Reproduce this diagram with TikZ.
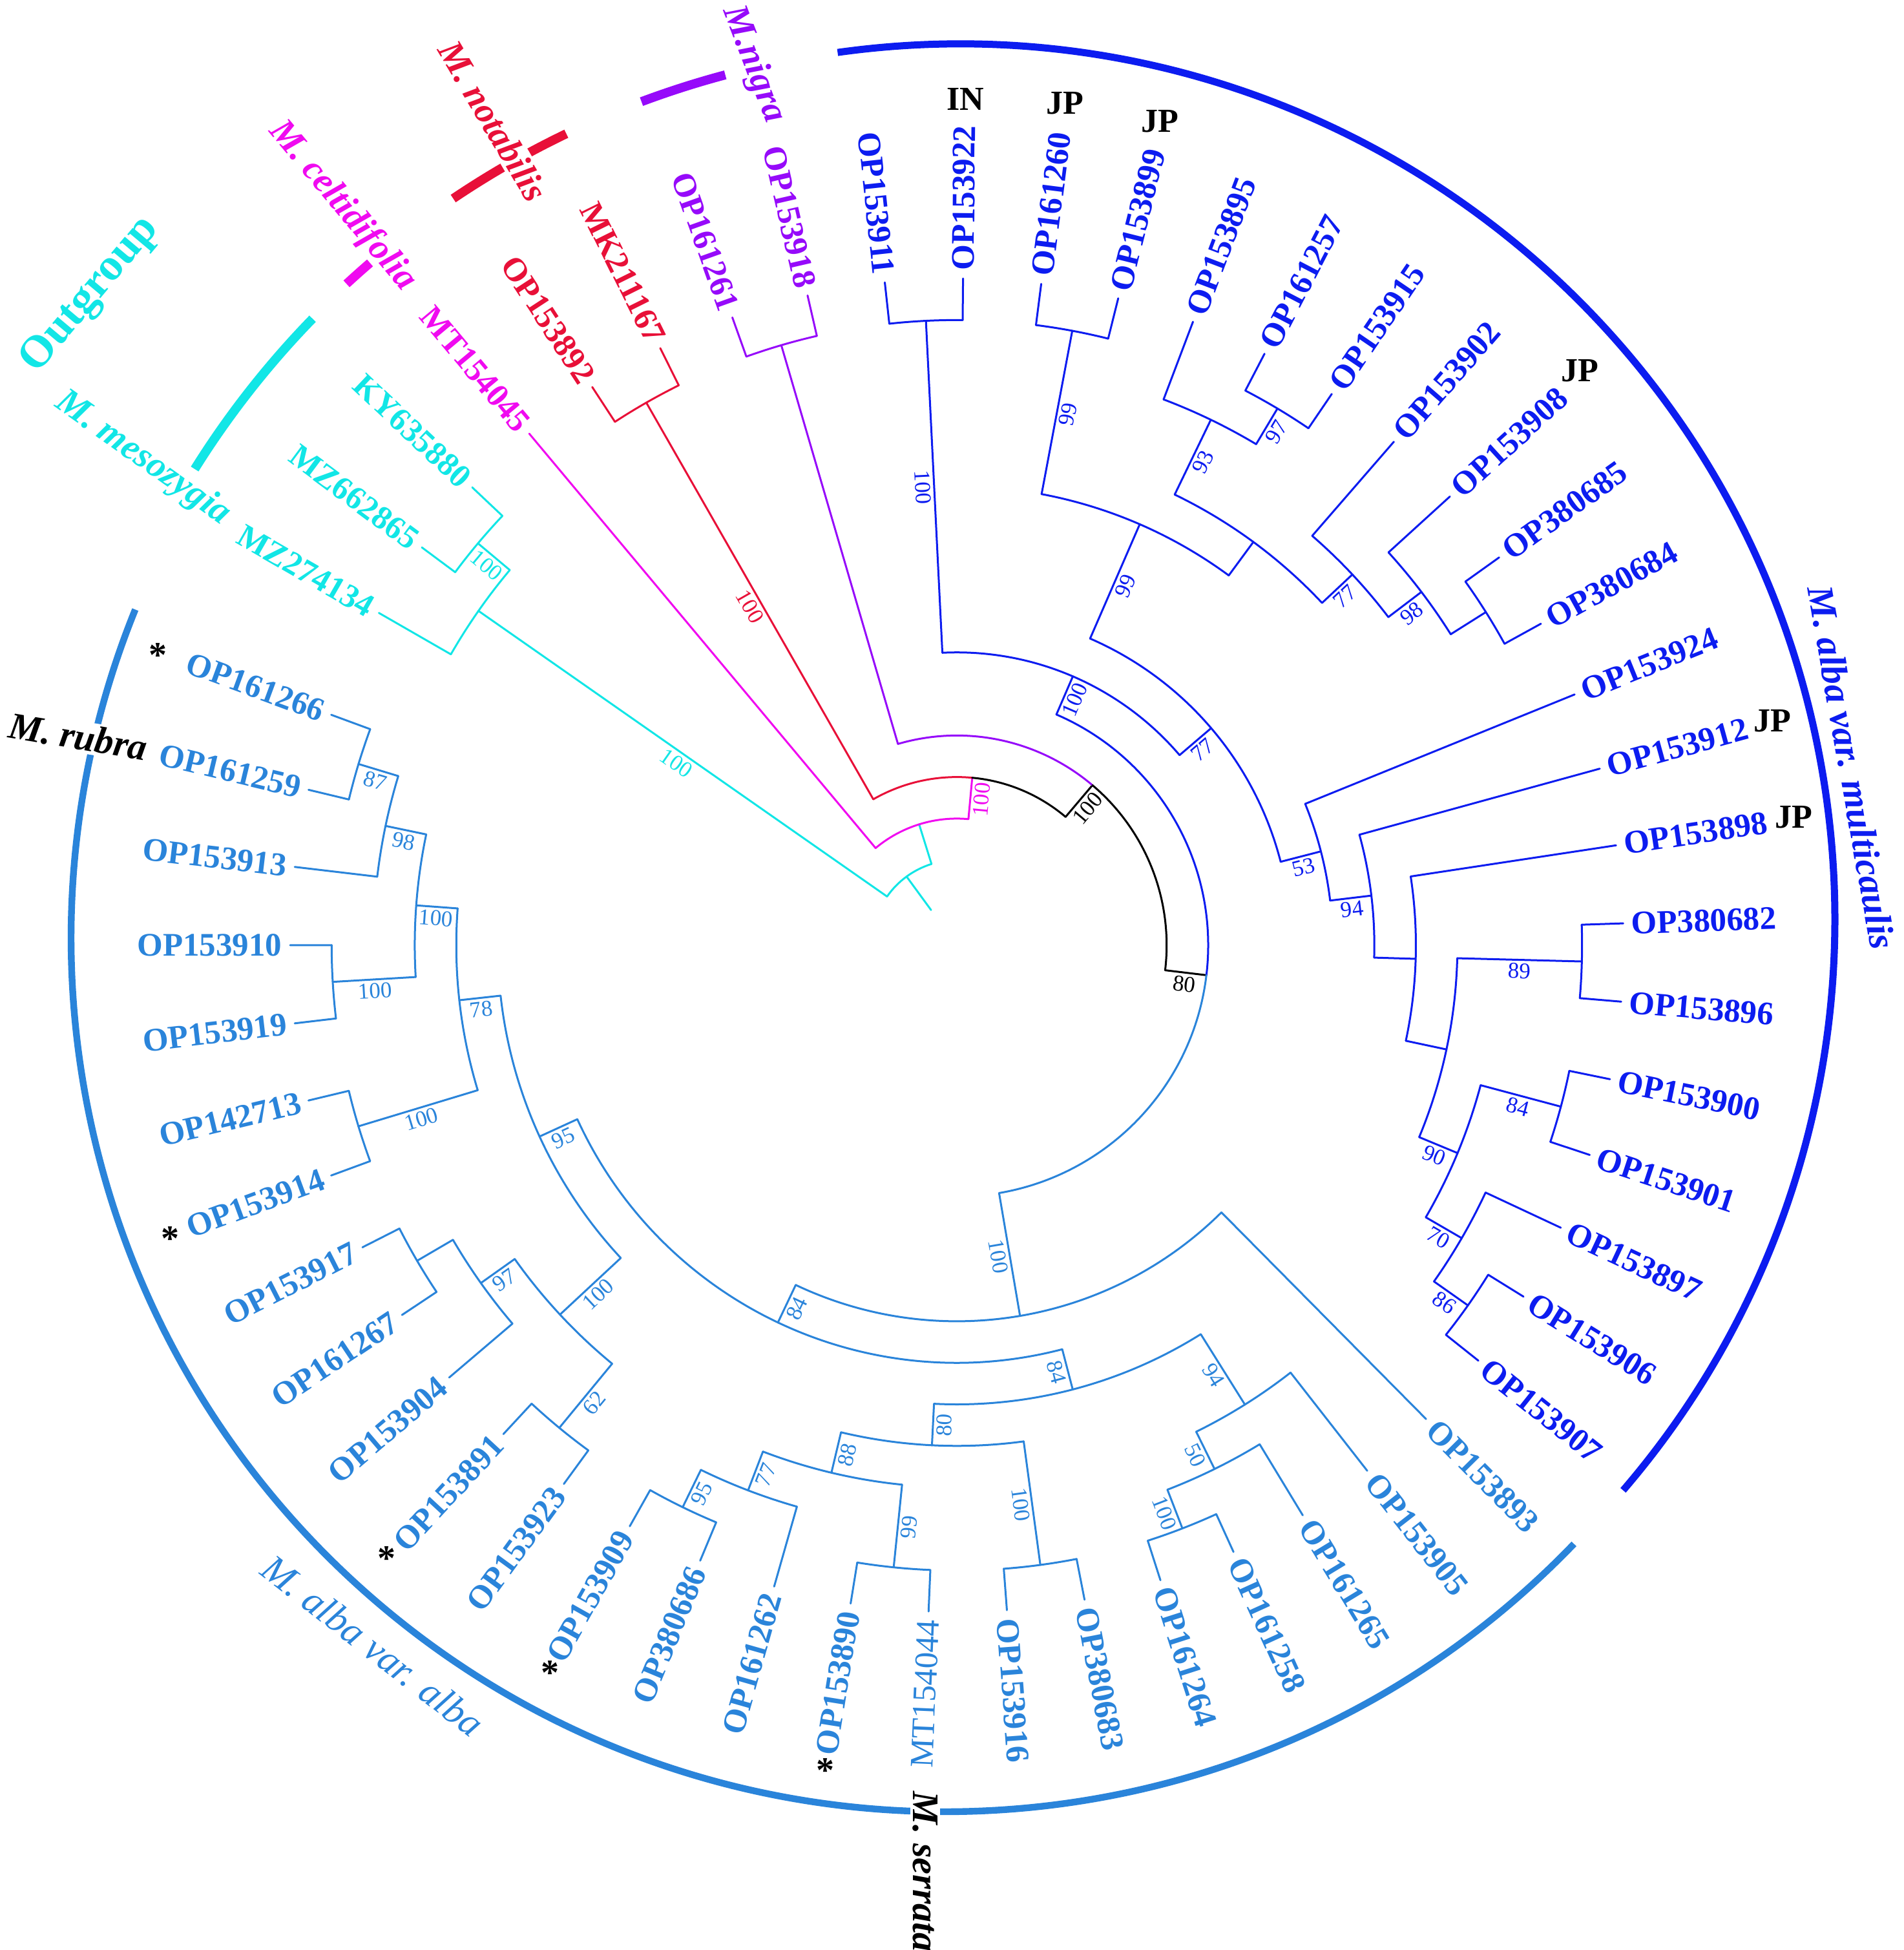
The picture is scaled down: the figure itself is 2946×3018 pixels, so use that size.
\documentclass[tikz,border=0pt]{standalone}
\usepackage{fontspec}
\setmainfont{Liberation Serif}
\definecolor{Cy}{RGB}{18,230,230}
\definecolor{Mg}{RGB}{240,10,240}
\definecolor{Rd}{RGB}{232,16,56}
\definecolor{Pu}{RGB}{150,10,250}
\definecolor{Bl}{RGB}{12,28,240}
\definecolor{Lb}{RGB}{42,132,218}
\newcommand\ang[1]{\csname a@#1\endcsname}
\newcommand\defleaf[2]{\pgfmathsetmacro\mytmp{-150.1+6.737*#2}\expandafter\xdef\csname a@#1\endcsname{\mytmp}}
\newcommand\defnode[3]{\pgfmathsetmacro\mytmp{(\ang{#2}+\ang{#3})/2}\expandafter\xdef\csname a@#1\endcsname{\mytmp}}
\newcommand\leafreg{\fontsize{12.75}{13}\selectfont\mdseries}
\tikzset{
  br/.style={line width=0.75pt, line cap=round, line join=round},
  bs/.style={font=\fontsize{8.75}{9}\selectfont, inner sep=1.2pt, anchor=north},
  leaf/.style={font=\fontsize{12.75}{13}\selectfont\bfseries, inner sep=0pt},
  clade/.style={line width=3.5pt},
  ctry/.style={font=\fontsize{13}{13}\selectfont\bfseries, text=black, inner sep=0pt},
  astx/.style={font=\fontsize{14}{14}\selectfont\bfseries, text=black, inner sep=0pt},
  spname/.style={inner sep=1pt},
}
\newcommand\Stem[5]{%
  \pgfmathsetmacro\myan{\ang{#2}}%
  \pgfmathsetmacro\myri{1032-64.3*#3}%
  \pgfmathsetmacro\myro{1032-64.3*#4}%
  \draw[br,#1] (\myan:\myri) coordinate (#2-base) -- (\myan:\myro) coordinate (#2);
  \if\relax\detokenize{#5}\relax\else
    \pgfmathsetmacro\myrm{(\myri+\myro)/2}%
    \pgfmathsetmacro\myc{cos(\myan)}%
    \ifdim\myc pt<0pt \pgfmathsetmacro\myrot{180-(\myan)}\else\pgfmathsetmacro\myrot{-(\myan)}\fi
    \node[bs,text=#1,rotate=\myrot] (#2-bs) at (\myan:\myrm) {#5};
  \fi}
\newcommand\Arc[4]{%
  \pgfmathsetmacro\myr{1032-64.3*#2}%
  \pgfmathsetmacro\myaa{\ang{#3}}\pgfmathsetmacro\myab{\ang{#4}}%
  \draw[br,#1] (\myaa:\myr) arc[start angle=\myaa, end angle=\myab, radius=\myr];}
\newcommand\Lf[4][]{%
  \pgfmathsetmacro\myan{\ang{#3}}%
  \pgfmathsetmacro\myri{1032-64.3*#4}%
  \draw[br,#2] (\myan:\myri) coordinate (#3-base) -- (\myan:1032) coordinate (#3);
  \pgfmathsetmacro\myc{cos(\myan)}%
  \ifdim\myc pt<0pt
    \pgfmathsetmacro\myrot{180-(\myan)}%
    \node[leaf,text=#2,rotate=\myrot,anchor=east,#1] (#3-lab) at (\myan:1044) {#3};%
  \else
    \pgfmathsetmacro\myrot{-(\myan)}%
    \node[leaf,text=#2,rotate=\myrot,anchor=west,#1] (#3-lab) at (\myan:1044) {#3};%
  \fi}
\begin{document}
\defleaf{MZ274134}{0}\defleaf{MZ662865}{1}\defleaf{KY635880}{2}\defleaf{MT154045}{3}
\defleaf{OP153892}{4}\defleaf{MK211167}{5}\defleaf{OP161261}{6}\defleaf{OP153918}{7}
\defleaf{OP153911}{8}\defleaf{OP153922}{9}\defleaf{OP161260}{10}\defleaf{OP153899}{11}
\defleaf{OP153895}{12}\defleaf{OP161257}{13}\defleaf{OP153915}{14}\defleaf{OP153902}{15}
\defleaf{OP153908}{16}\defleaf{OP380685}{17}\defleaf{OP380684}{18}\defleaf{OP153924}{19}
\defleaf{OP153912}{20}\defleaf{OP153898}{21}\defleaf{OP380682}{22}\defleaf{OP153896}{23}
\defleaf{OP153900}{24}\defleaf{OP153901}{25}\defleaf{OP153897}{26}\defleaf{OP153906}{27}
\defleaf{OP153907}{28}\defleaf{OP153893}{29}\defleaf{OP153905}{30}\defleaf{OP161265}{31}
\defleaf{OP161258}{32}\defleaf{OP161264}{33}\defleaf{OP380683}{34}\defleaf{OP153916}{35}
\defleaf{MT154044}{36}\defleaf{OP153890}{37}\defleaf{OP161262}{38}\defleaf{OP380686}{39}
\defleaf{OP153909}{40}\defleaf{OP153923}{41}\defleaf{OP153891}{42}\defleaf{OP153904}{43}
\defleaf{OP161267}{44}\defleaf{OP153917}{45}\defleaf{OP153914}{46}\defleaf{OP142713}{47}
\defleaf{OP153919}{48}\defleaf{OP153910}{49}\defleaf{OP153913}{50}\defleaf{OP161259}{51}
\defleaf{OP161266}{52}
\defnode{og1}{MZ662865}{KY635880}
\defnode{og2}{MZ274134}{og1}
\defnode{red}{OP153892}{MK211167}
\defnode{nig}{OP161261}{OP153918}
\defnode{ind}{OP153911}{OP153922}
\defnode{p1}{OP161260}{OP153899}
\defnode{t97}{OP161257}{OP153915}
\defnode{t93}{OP153895}{t97}
\defnode{tx}{OP380685}{OP380684}
\defnode{t98}{OP153908}{tx}
\defnode{t77}{OP153902}{t98}
\defnode{p3}{t93}{t77}
\defnode{p2}{p1}{p3}
\defnode{q86}{OP153906}{OP153907}
\defnode{q70}{OP153897}{q86}
\defnode{q84}{OP153900}{OP153901}
\defnode{q90}{q84}{q70}
\defnode{q89}{OP380682}{OP153896}
\defnode{q4}{q89}{q90}
\defnode{q3}{OP153898}{q4}
\defnode{q94}{OP153912}{q3}
\defnode{q53}{OP153924}{q94}
\defnode{mc1}{p2}{q53}
\defnode{mc0}{ind}{mc1}
\defnode{x1}{OP161258}{OP161264}
\defnode{f50}{OP161265}{x1}
\defnode{f94}{OP153905}{f50}
\defnode{b100}{OP380683}{OP153916}
\defnode{b99}{MT154044}{OP153890}
\defnode{b95}{OP380686}{OP153909}
\defnode{b77}{OP161262}{b95}
\defnode{b88}{b99}{b77}
\defnode{b80}{b100}{b88}
\defnode{f84}{f94}{b80}
\defnode{c62}{OP153923}{OP153891}
\defnode{cy}{OP161267}{OP153917}
\defnode{c97}{OP153904}{cy}
\defnode{c100}{c62}{c97}
\defnode{d100}{OP153914}{OP142713}
\defnode{e100}{OP153919}{OP153910}
\defnode{e87}{OP161259}{OP161266}
\defnode{e98}{OP153913}{e87}
\defnode{e100b}{e100}{e98}
\defnode{d78}{d100}{e100b}
\defnode{c95}{c100}{d78}
\defnode{a84}{f84}{c95}
\defnode{a0}{OP153893}{a84}
\defnode{n4}{mc0}{a0}
\defnode{n3}{nig}{n4}
\defnode{n2}{red}{n3}
\defnode{n1}{MT154045}{n2}
\defnode{root}{og2}{n1}
\begin{tikzpicture}[x=0.25pt,y=-0.25pt]
\useasboundingbox (0,0) rectangle (2946,3018);
% clade bars
\draw[Bl, line width=2.75pt] (1485,1423) ++(-98:1355) arc[start angle=-98, end angle=40.7, radius=1355];
\draw[Lb, line width=2.6pt] (1462,1452) ++(43.9:1352) arc[start angle=43.9, end angle=202.1, radius=1352];
\begin{scope}[shift={(1481,1463)}]
\draw[Cy, clade] (-148.0:1391) arc[start angle=-148.0, end angle=-135.8, radius=1391];
\draw[Mg, clade] (-132.7:1393) arc[start angle=-132.7, end angle=-130.7, radius=1393];
\draw[Rd, clade] (-124.0:1394) arc[start angle=-124.0, end angle=-115.7, radius=1394];
\draw[Pu, clade] (-110.5:1394) arc[start angle=-110.5, end angle=-104.9, radius=1394];
% root and backbone
\Stem{Cy}{root}{15}{14}{}
\Arc{Cy}{14}{og2}{n1}
\Stem{Cy}{og2}{14}{2}{100}
\Arc{Cy}{2}{MZ274134}{og1}
\Lf{Cy}{MZ274134}{2}
\Stem{Cy}{og1}{2}{1}{100}
\Arc{Cy}{1}{MZ662865}{KY635880}
\Lf{Cy}{MZ662865}{1}
\Lf{Cy}{KY635880}{1}
\Stem{Cy}{n1}{14}{13}{}
\Arc{Mg}{13}{MT154045}{n2}
\Lf{Mg}{MT154045}{13}
\Stem{Mg}{n2}{13}{12}{100}
\Arc{Rd}{12}{red}{n2}
\Arc{black}{12}{n2}{n3}
\Stem{Rd}{red}{12}{1}{100}
\Arc{Rd}{1}{OP153892}{MK211167}
\Lf{Rd}{OP153892}{1}
\Lf{Rd}{MK211167}{1}
\Stem{black}{n3}{12}{11}{100}
\Arc{Pu}{11}{nig}{n3}
\Arc{black}{11}{n3}{n4}
\Stem{Pu}{nig}{11}{1}{}
\Arc{Pu}{1}{OP161261}{OP153918}
\Lf{Pu}{OP161261}{1}
\Lf{Pu}{OP153918}{1}
\Stem{black}{n4}{11}{10}{80}
\Arc{Bl}{10}{mc0}{n4}
\Arc{Lb}{10}{n4}{a0}
% M. alba var. multicaulis
\Stem{Bl}{mc0}{10}{9}{100}
\Arc{Bl}{9}{ind}{mc1}
\Stem{Bl}{ind}{9}{1}{100}
\Arc{Bl}{1}{OP153911}{OP153922}
\Lf{Bl}{OP153911}{1}
\Lf{Bl}{OP153922}{1}
\Stem{Bl}{mc1}{9}{8}{77}
\Arc{Bl}{8}{p2}{q53}
\Stem{Bl}{p2}{8}{5}{99}
\Arc{Bl}{5}{p1}{p3}
\Stem{Bl}{p1}{5}{1}{99}
\Arc{Bl}{1}{OP161260}{OP153899}
\Lf{Bl}{OP161260}{1}
\Lf{Bl}{OP153899}{1}
\Stem{Bl}{p3}{5}{4}{}
\Arc{Bl}{4}{t93}{t77}
\Stem{Bl}{t93}{4}{2}{93}
\Arc{Bl}{2}{OP153895}{t97}
\Lf{Bl}{OP153895}{2}
\Stem{Bl}{t97}{2}{1}{97}
\Arc{Bl}{1}{OP161257}{OP153915}
\Lf{Bl}{OP161257}{1}
\Lf{Bl}{OP153915}{1}
\Stem{Bl}{t77}{4}{3}{77}
\Arc{Bl}{3}{OP153902}{t98}
\Lf{Bl}{OP153902}{3}
\Stem{Bl}{t98}{3}{2}{98}
\Arc{Bl}{2}{OP153908}{tx}
\Lf{Bl}{OP153908}{2}
\Stem{Bl}{tx}{2}{1}{}
\Arc{Bl}{1}{OP380685}{OP380684}
\Lf{Bl}{OP380685}{1}
\Lf{Bl}{OP380684}{1}
\Stem{Bl}{q53}{8}{7}{53}
\Arc{Bl}{7}{OP153924}{q94}
\Lf{Bl}{OP153924}{7}
\Stem{Bl}{q94}{7}{6}{94}
\Arc{Bl}{6}{OP153912}{q3}
\Lf{Bl}{OP153912}{6}
\Stem{Bl}{q3}{6}{5}{}
\Arc{Bl}{5}{OP153898}{q4}
\Lf{Bl}{OP153898}{5}
\Stem{Bl}{q4}{5}{4}{}
\Arc{Bl}{4}{q89}{q90}
\Stem{Bl}{q89}{4}{1}{89}
\Arc{Bl}{1}{OP380682}{OP153896}
\Lf{Bl}{OP380682}{1}
\Lf{Bl}{OP153896}{1}
\Stem{Bl}{q90}{4}{3}{90}
\Arc{Bl}{3}{q84}{q70}
\Stem{Bl}{q84}{3}{1}{84}
\Arc{Bl}{1}{OP153900}{OP153901}
\Lf{Bl}{OP153900}{1}
\Lf{Bl}{OP153901}{1}
\Stem{Bl}{q70}{3}{2}{70}
\Arc{Bl}{2}{OP153897}{q86}
\Lf{Bl}{OP153897}{2}
\Stem{Bl}{q86}{2}{1}{86}
\Arc{Bl}{1}{OP153906}{OP153907}
\Lf{Bl}{OP153906}{1}
\Lf{Bl}{OP153907}{1}
% M. alba var. alba
\Stem{Lb}{a0}{10}{7}{100}
\Arc{Lb}{7}{OP153893}{a84}
\Lf{Lb}{OP153893}{7}
\Stem{Lb}{a84}{7}{6}{84}
\Arc{Lb}{6}{f84}{c95}
\Stem{Lb}{f84}{6}{5}{84}
\Arc{Lb}{5}{f94}{b80}
\Stem{Lb}{f94}{5}{3}{94}
\Arc{Lb}{3}{OP153905}{f50}
\Lf{Lb}{OP153905}{3}
\Stem{Lb}{f50}{3}{2}{50}
\Arc{Lb}{2}{OP161265}{x1}
\Lf{Lb}{OP161265}{2}
\Stem{Lb}{x1}{2}{1}{100}
\Arc{Lb}{1}{OP161258}{OP161264}
\Lf{Lb}{OP161258}{1}
\Lf{Lb}{OP161264}{1}
\Stem{Lb}{b80}{5}{4}{80}
\Arc{Lb}{4}{b100}{b88}
\Stem{Lb}{b100}{4}{1}{100}
\Arc{Lb}{1}{OP380683}{OP153916}
\Lf{Lb}{OP380683}{1}
\Lf{Lb}{OP153916}{1}
\Stem{Lb}{b88}{4}{3}{88}
\Arc{Lb}{3}{b99}{b77}
\Stem{Lb}{b99}{3}{1}{99}
\Arc{Lb}{1}{MT154044}{OP153890}
\Lf[font=\leafreg]{Lb}{MT154044}{1}
\Lf{Lb}{OP153890}{1}
\Stem{Lb}{b77}{3}{2}{77}
\Arc{Lb}{2}{OP161262}{b95}
\Lf{Lb}{OP161262}{2}
\Stem{Lb}{b95}{2}{1}{95}
\Arc{Lb}{1}{OP380686}{OP153909}
\Lf{Lb}{OP380686}{1}
\Lf{Lb}{OP153909}{1}
\Stem{Lb}{c95}{6}{5}{95}
\Arc{Lb}{5}{c100}{d78}
\Stem{Lb}{c100}{5}{3}{100}
\Arc{Lb}{3}{c62}{c97}
\Stem{Lb}{c62}{3}{1}{62}
\Arc{Lb}{1}{OP153923}{OP153891}
\Lf{Lb}{OP153923}{1}
\Lf{Lb}{OP153891}{1}
\Stem{Lb}{c97}{3}{2}{97}
\Arc{Lb}{2}{OP153904}{cy}
\Lf{Lb}{OP153904}{2}
\Stem{Lb}{cy}{2}{1}{}
\Arc{Lb}{1}{OP161267}{OP153917}
\Lf{Lb}{OP161267}{1}
\Lf{Lb}{OP153917}{1}
\Stem{Lb}{d78}{5}{4}{78}
\Arc{Lb}{4}{d100}{e100b}
\Stem{Lb}{d100}{4}{1}{100}
\Arc{Lb}{1}{OP153914}{OP142713}
\Lf{Lb}{OP153914}{1}
\Lf{Lb}{OP142713}{1}
\Stem{Lb}{e100b}{4}{3}{100}
\Arc{Lb}{3}{e100}{e98}
\Stem{Lb}{e100}{3}{1}{100}
\Arc{Lb}{1}{OP153919}{OP153910}
\Lf{Lb}{OP153919}{1}
\Lf{Lb}{OP153910}{1}
\Stem{Lb}{e98}{3}{2}{98}
\Arc{Lb}{2}{OP153913}{e87}
\Lf{Lb}{OP153913}{2}
\Stem{Lb}{e87}{2}{1}{87}
\Arc{Lb}{1}{OP161259}{OP161266}
\Lf{Lb}{OP161259}{1}
\Lf{Lb}{OP161266}{1}
\end{scope}
% clade names
\node[spname, text=Cy, font=\fontsize{17.5}{18}\selectfont\bfseries, rotate=50] (tOut) at (140,457) {Outgroup};
\node[spname, text=Cy, font=\fontsize{14.2}{15}\selectfont\bfseries\itshape, rotate=-35.4] (tMes) at (221,710) {M. mesozygia};
\node[spname, text=Mg, font=\fontsize{14}{14}\selectfont\bfseries\itshape, rotate=-50.2] (tCel) at (530,319) {M. celtidifolia};
\node[spname, text=Rd, fill=white, font=\fontsize{14}{14}\selectfont\bfseries\itshape, rotate=-59.4] (tNot) at (763,187) {M. notabilis};
\node[spname, text=Pu, font=\fontsize{14}{14}\selectfont\bfseries\itshape, rotate=-69] (tNig) at (1166,100) {M.nigra};
\node[spname, text=Bl, font=\fontsize{14.4}{15}\selectfont\bfseries\itshape, rotate=-80] (tMul) at (2866,1188) {M. alba var. multicaulis};
\node[spname, text=Lb, font=\fontsize{15}{15}\selectfont\itshape, rotate=-37.9] (tAlb) at (577,2547) {M. alba var. alba};
\node[spname, text=black, fill=white, font=\fontsize{14.5}{15}\selectfont\bfseries\itshape, rotate=-9.5] (tRub) at (121,1140) {M. rubra};
\node[spname, text=black, fill=white, font=\fontsize{14.5}{15}\selectfont\bfseries\itshape, rotate=-90, anchor=west] (tSer) at (1432,2768) {M. serrata};
% country tags
\node[ctry] (cIN) at (1494,153) {IN};
\node[ctry] (cJP1) at (1648,160) {JP};
\node[ctry] (cJP2) at (1795,188) {JP};
\node[ctry] (cJP3) at (2445,574) {JP};
\node[ctry] (cJP4) at (2743,1116) {JP};
\node[ctry] (cJP5) at (2776,1265) {JP};
% asterisks
\node[astx] (s1) at (244,1014) {*};
\node[astx] (s2) at (263,1917) {*};
\node[astx] (s3) at (598,2412) {*};
\node[astx] (s4) at (851,2589) {*};
\node[astx] (s5) at (1277,2740) {*};
\end{tikzpicture}
\end{document}
